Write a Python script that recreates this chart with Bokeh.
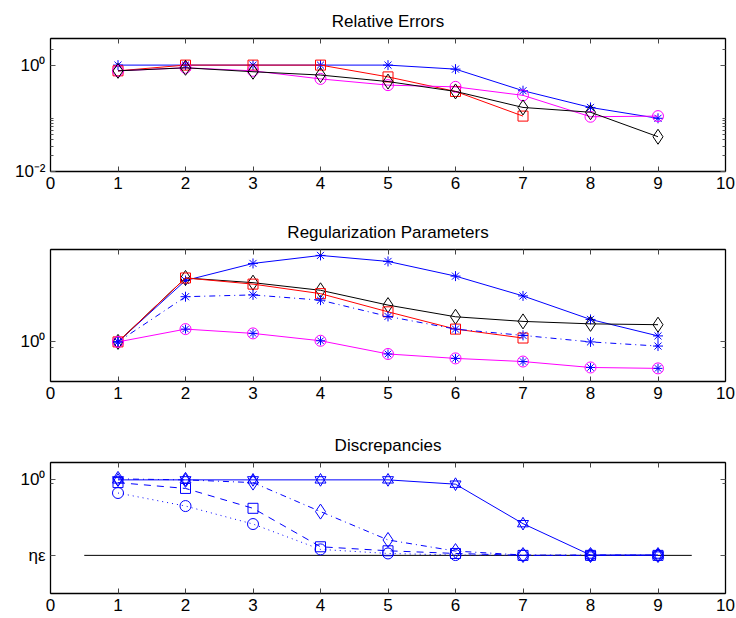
from bokeh.plotting import figure
from bokeh.layouts import column
from bokeh.models import FixedTicker, LogAxis, LinearAxis, Range1d, Title, CustomJSTickFormatter
from bokeh.embed import file_html
from bokeh.resources import INLINE

# ---------------- data ----------------
iters = [1, 2, 3, 4, 5, 6, 7, 8, 9]
iters7 = [1, 2, 3, 4, 5, 6, 7]
x_ticks = [0, 1, 2, 3, 4, 5, 6, 7, 8, 9, 10]

# Relative errors
re_blue = [1.0, 1.0, 1.0, 1.0, 1.0, 0.84, 0.33, 0.16, 0.10]
re_red = [0.78, 1.0, 1.0, 1.0, 0.60, 0.32, 0.11]
re_magenta = [0.78, 0.89, 0.78, 0.55, 0.42, 0.39, 0.27, 0.107, 0.11]
re_black = [0.78, 0.89, 0.75, 0.65, 0.49, 0.32, 0.16, 0.13, 0.045]

# Regularization parameters
rp_blue = [1.0, 2.92, 3.93, 4.52, 4.07, 3.15, 2.23, 1.48, 1.11]
rp_black = [1.0, 3.05, 2.81, 2.46, 1.90, 1.55, 1.43, 1.37, 1.35]
rp_red = [1.0, 3.05, 2.74, 2.32, 1.69, 1.25, 1.07]
rp_blue_dd = [1.0, 2.20, 2.27, 2.07, 1.56, 1.25, 1.12, 1.0, 0.93]
rp_magenta = [1.0, 1.25, 1.16, 1.02, 0.81, 0.75, 0.71, 0.64, 0.63]

# Discrepancies (eta*eps level)
eta_eps = 0.1
eta_x = [0.5, 9.5]
ds_star = [1.0, 1.0, 1.0, 1.0, 1.0, 0.877, 0.263, 0.101, 0.101]
ds_diamond = [1.03, 1.0, 0.92, 0.38, 0.16, 0.114, 0.101, 0.101, 0.101]
ds_square = [0.92, 0.77, 0.42, 0.13, 0.115, 0.106, 0.1, 0.1, 0.1]
ds_circle = [0.67, 0.45, 0.26, 0.12, 0.106, 0.101, 0.1, 0.1, 0.1]

BLUE = "#0000ff"
RED = "#ff0000"
MAG = "#ff00ff"
BLK = "#000000"
FONT = "Liberation Sans"


def make_fig(title, y_range, height, border_top, border_bottom, major, minor, overrides):
    p = figure(width=736, height=height, x_range=Range1d(0, 10), y_range=y_range,
               y_axis_type="log", output_backend="svg", toolbar_location=None,
               x_axis_location=None, y_axis_location=None,
               min_border_left=50, min_border_right=11,
               min_border_top=border_top, min_border_bottom=border_bottom)
    p.grid.visible = False
    p.outline_line_color = "black"
    p.outline_line_width = 1
    p.background_fill_color = "white"
    p.border_fill_color = "white"

    p.title = Title(text=title, align="center", text_font=FONT, text_font_size="17px",
                    text_font_style="normal", text_color="black", standoff=15)
    p.title_location = "above"

    def xaxis(labels):
        ax = LinearAxis(ticker=FixedTicker(ticks=x_ticks))
        ax.major_tick_in = 5
        ax.major_tick_out = 0
        ax.minor_tick_in = 0
        ax.minor_tick_out = 0
        ax.axis_line_color = "black"
        ax.axis_line_width = 1.3
        ax.major_tick_line_color = "#444444"
        if labels:
            ax.major_label_text_font = FONT
            ax.major_label_text_font_size = "17px"
            ax.major_label_text_color = "black"
            ax.major_label_standoff = 5
        else:
            ax.formatter = CustomJSTickFormatter(code="return ''")
            ax.major_label_standoff = 0
        return ax

    def yaxis(labels):
        ax = LogAxis(ticker=FixedTicker(ticks=major, minor_ticks=minor))
        ax.major_tick_in = 5
        ax.major_tick_out = 0
        ax.minor_tick_in = 3
        ax.minor_tick_out = 0
        ax.axis_line_color = "black"
        ax.axis_line_width = 1.3
        ax.major_tick_line_color = "#555555"
        ax.minor_tick_line_color = "#555555"
        if labels:
            ax.major_label_text_font = FONT
            ax.major_label_text_font_size = "17px"
            ax.major_label_text_color = "black"
            ax.major_label_standoff = 5
            ax.major_label_overrides = overrides
        else:
            ax.formatter = CustomJSTickFormatter(code="return ''")
            ax.major_label_standoff = 0
        return ax

    p.add_layout(xaxis(True), "below")
    p.add_layout(xaxis(False), "above")
    p.add_layout(yaxis(True), "left")
    p.add_layout(yaxis(False), "right")
    return p


def series(p, x, y, color, marker, size, dash="solid"):
    p.line(x, y, line_color=color, line_width=1, line_dash=dash)
    if marker == "hexagram":
        p.scatter(x, y, marker="triangle", size=size, fill_color=None, line_color=color, line_width=1)
        p.scatter(x, y, marker="inverted_triangle", size=size, fill_color=None, line_color=color, line_width=1)
    else:
        p.scatter(x, y, marker=marker, size=size, fill_color=None, line_color=color, line_width=1)


# ---------------- panel 1 ----------------
p1 = make_fig("Relative Errors", Range1d(0.01, 10 ** 0.5), 211, 38, 40,
              [0.01, 1], [0.02, 0.03, 0.04, 0.05, 0.06, 0.07, 0.08, 0.09, 0.1, 2],
              {0.01: "10\u207b\u00b2", 1: "10\u2070"})
series(p1, iters, re_blue, BLUE, "asterisk", 10)
series(p1, iters7, re_red, RED, "square", 10)
series(p1, iters, re_magenta, MAG, "circle", 11)
series(p1, iters, re_black, BLK, "diamond", 15)

# ---------------- panel 2 ----------------
p2 = make_fig("Regularization Parameters", Range1d(10 ** -0.3, 10 ** 0.7), 213, 38, 43,
              [1], [0.9], {1: "10\u2070"})
series(p2, iters, rp_blue, BLUE, "asterisk", 10)
series(p2, iters, rp_black, BLK, "diamond", 15)
series(p2, iters7, rp_red, RED, "square", 10)
series(p2, iters, rp_blue_dd, BLUE, "asterisk", 10, "6 4 1 4")
series(p2, iters, rp_magenta, MAG, "circle", 11)
p2.scatter(iters, rp_magenta, marker="asterisk", size=9, line_color=BLUE, line_width=1)

# ---------------- panel 3 ----------------
p3 = make_fig("Discrepancies", Range1d(10 ** -1.505, 10 ** 0.23), 192, 38, 23,
              [eta_eps, 1], [0.9], {1: "10\u2070", eta_eps: "\u03b7\u03b5"})
p3.line(eta_x, [eta_eps, eta_eps], line_color="black", line_width=1)
series(p3, iters, ds_star, BLUE, "hexagram", 11)
series(p3, iters, ds_diamond, BLUE, "diamond", 15, "6 4 1 4")
series(p3, iters, ds_square, BLUE, "square", 10, "7 6")
series(p3, iters, ds_circle, BLUE, "circle", 11, "1 4")

layout = column(p1, p2, p3, spacing=0)
open("out.html", "w").write(file_html(layout, INLINE))
